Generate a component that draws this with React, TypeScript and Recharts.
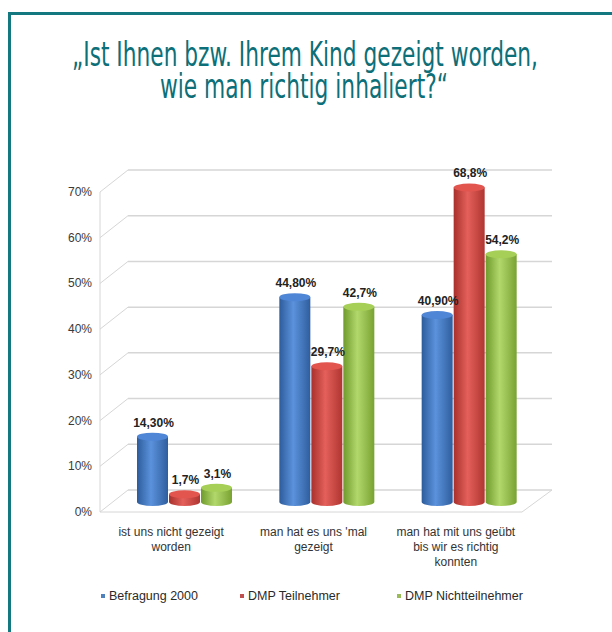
import React from 'react';
import { BarChart, Bar, XAxis, YAxis, CartesianGrid, LabelList, Legend } from 'recharts';

const titleLines = ['„Ist Ihnen bzw. Ihrem Kind gezeigt worden,', 'wie man richtig inhaliert?“'];
const categories = ['ist uns nicht gezeigt worden', "man hat es uns 'mal gezeigt", 'man hat mit uns geübt bis wir es richtig konnten'];
const categoryLines = [
  ['ist uns nicht gezeigt', 'worden'],
  ["man hat es uns 'mal", 'gezeigt'],
  ['man hat mit uns geübt', 'bis wir es richtig', 'konnten'],
];
const seriesNames = ['Befragung 2000', 'DMP Teilnehmer', 'DMP Nichtteilnehmer'];
const befragung2000 = [14.3, 44.8, 40.9];
const dmpTeilnehmer = [1.7, 29.7, 68.8];
const dmpNichtteilnehmer = [3.1, 42.7, 54.2];
const befragung2000Labels = ['14,30%', '44,80%', '40,90%'];
const dmpTeilnehmerLabels = ['1,7%', '29,7%', '68,8%'];
const dmpNichtteilnehmerLabels = ['3,1%', '42,7%', '54,2%'];
const yTicks = [0, 10, 20, 30, 40, 50, 60, 70];

const legendColors = ['#4F81BD', '#C0504D', '#9BBB59'];
const gradIds = ['gBlue', 'gRed', 'gGreen'];
const topColors = ['#4f86d6', '#e2554f', '#a6cf58'];

const data = categories.map((c, i) => ({
  cat: c,
  s0: befragung2000[i],
  s1: dmpTeilnehmer[i],
  s2: dmpNichtteilnehmer[i],
  l0: befragung2000Labels[i],
  l1: dmpTeilnehmerLabels[i],
  l2: dmpNichtteilnehmerLabels[i],
}));

const FONT = 'Arial, "Liberation Sans", Helvetica, sans-serif';
const TITLE_FONT = '"Liberation Sans Narrow", "DejaVu Sans Condensed", sans-serif';

const makeCylinder = (idx: number) => (props: any) => {
  const { x, y, width, height } = props;
  if (width == null || height == null) return <g />;
  const rx = width / 2;
  const ry = 4;
  const d = `M${x},${y} L${x},${y + height} A${rx},${ry} 0 0 0 ${x + width},${y + height} L${x + width},${y} Z`;
  return (
    <g>
      <path d={d} fill={`url(#${gradIds[idx]})`} />
      <ellipse cx={x + rx} cy={y} rx={rx} ry={ry} fill={topColors[idx]} />
    </g>
  );
};

const renderLabel = (props: any) => {
  const { x, y, width, value } = props;
  return (
    <text x={x + width / 2 + 1} y={y - 10} textAnchor="middle" fontSize={12} fontWeight="bold" fontFamily={FONT} fill="#222">
      {value}
    </text>
  );
};

const YTick = (props: any) => {
  const { x, y, payload } = props;
  return (
    <text x={x - 13} y={y + 14} textAnchor="end" fontSize={12} fontFamily={FONT} fill="#3a3a3a">
      {payload.value}%
    </text>
  );
};

const XTick = (props: any) => {
  const { x, y, payload } = props;
  const idx = categories.indexOf(payload.value);
  const lines = categoryLines[idx] || [payload.value];
  return (
    <text x={x - 13} y={y + 26} textAnchor="middle" fontSize={12} fontFamily={FONT} fill="#333">
      {lines.map((l, i) => (
        <tspan key={i} x={x - 13} dy={i === 0 ? 0 : 15}>
          {l}
        </tspan>
      ))}
    </text>
  );
};

const GridLine = (p: any) => {
  const { x1, y1, x2, y, height } = p;
  const back = y1 - 12;
  const isBottom = typeof y === 'number' && typeof height === 'number' && Math.abs(y1 - (y + height)) < 0.5;
  const stroke = '#d6d6d6';
  return (
    <g key={p.key}>
      <line x1={x1 - 13} y1={y1 + 10} x2={x1 + 15} y2={back} stroke={stroke} strokeWidth={1} />
      <line x1={x1 + 15} y1={back} x2={x2 + 12} y2={back} stroke={stroke} strokeWidth={1.5} />
      {isBottom && (
        <g>
          <line x1={x1 - 13} y1={y1 + 10} x2={x2 - 18} y2={y1 + 10} stroke={stroke} strokeWidth={1} />
          <line x1={x2 - 18} y1={y1 + 10} x2={x2 + 12} y2={back} stroke={stroke} strokeWidth={1} />
          <line x1={x1 - 13} y1={y + 10} x2={x1 - 13} y2={y1 + 10} stroke={stroke} strokeWidth={1} />
        </g>
      )}
    </g>
  );
};

const LegendContent = () => (
  <div style={{ position: 'relative', width: 612, height: 18, fontFamily: FONT, fontSize: 12.5, color: '#2a2a2a' }}>
    {seriesNames.map((n, i) => (
      <div key={n} style={{ position: 'absolute', left: [101, 240, 397][i], top: 0, whiteSpace: 'nowrap', display: 'flex', alignItems: 'center' }}>
        <span style={{ display: 'inline-block', width: 4, height: 4, background: legendColors[i], marginRight: 4 }} />
        <span>{n}</span>
      </div>
    ))}
  </div>
);

export default function App() {
  return (
    <div style={{ position: 'absolute', left: 0, top: 0, width: 612, height: 632, background: '#fff', overflow: 'hidden' }}>
      <div style={{ position: 'absolute', left: 8, top: 12, width: 640, height: 660, border: '3px solid #137880', boxSizing: 'border-box' }} />
      <svg style={{ position: 'absolute', left: 0, top: 0 }} width={612} height={120}>
        <text x={305} y={66} textAnchor="middle" fontSize={33} fontFamily={TITLE_FONT} fill="#0d6f78" textLength={466} lengthAdjust="spacingAndGlyphs">
          {titleLines[0]}
        </text>
        <text x={304} y={98} textAnchor="middle" fontSize={33} fontFamily={TITLE_FONT} fill="#0d6f78" textLength={288} lengthAdjust="spacingAndGlyphs">
          {titleLines[1]}
        </text>
      </svg>
      <div style={{ position: 'absolute', left: 0, top: 0 }}>
        <BarChart width={612} height={632} data={data} margin={{ top: 182, right: 72, bottom: 70, left: 53 }} barSize={31} barGap={1}>
          <defs>
            <linearGradient id="gBlue" x1="0" y1="0" x2="1" y2="0">
              <stop offset="0%" stopColor="#2d5c9c" />
              <stop offset="45%" stopColor="#5b92dc" />
              <stop offset="100%" stopColor="#2f5e9e" />
            </linearGradient>
            <linearGradient id="gRed" x1="0" y1="0" x2="1" y2="0">
              <stop offset="0%" stopColor="#a8302c" />
              <stop offset="45%" stopColor="#e4605b" />
              <stop offset="100%" stopColor="#b03531" />
            </linearGradient>
            <linearGradient id="gGreen" x1="0" y1="0" x2="1" y2="0">
              <stop offset="0%" stopColor="#6f9a2c" />
              <stop offset="45%" stopColor="#b2d86c" />
              <stop offset="100%" stopColor="#78a232" />
            </linearGradient>
          </defs>
          <CartesianGrid vertical={false} horizontal={GridLine as any} />
          <XAxis dataKey="cat" height={60} axisLine={false} tickLine={false} tick={<XTick />} interval={0} />
          <YAxis width={60} domain={[0, 70]} ticks={yTicks} axisLine={false} tickLine={false} tick={<YTick />} interval={0} />
          <Legend layout="horizontal" verticalAlign="middle" align="center" content={<LegendContent />} wrapperStyle={{ position: 'absolute', top: 589, left: 0, width: 612 }} />
          <Bar dataKey="s0" name={seriesNames[0]} fill={legendColors[0]} shape={makeCylinder(0)} isAnimationActive={false}>
            <LabelList dataKey="l0" content={renderLabel} />
          </Bar>
          <Bar dataKey="s1" name={seriesNames[1]} fill={legendColors[1]} shape={makeCylinder(1)} isAnimationActive={false}>
            <LabelList dataKey="l1" content={renderLabel} />
          </Bar>
          <Bar dataKey="s2" name={seriesNames[2]} fill={legendColors[2]} shape={makeCylinder(2)} isAnimationActive={false}>
            <LabelList dataKey="l2" content={renderLabel} />
          </Bar>
        </BarChart>
      </div>
    </div>
  );
}
